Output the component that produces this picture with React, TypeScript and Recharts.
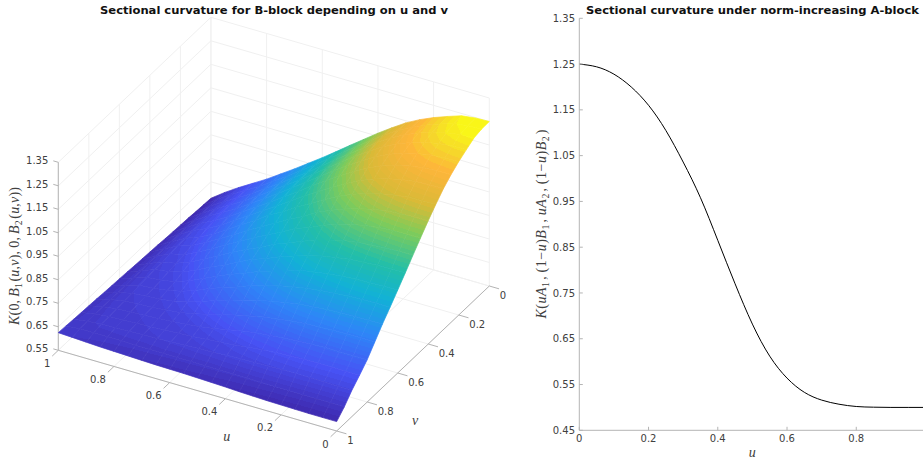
import React from 'react';
import { ScatterChart, Scatter, XAxis, YAxis, ReferenceLine, ReferenceDot, LineChart, Line } from 'recharts';

// surface samples, rows follow uGrid and columns follow vGrid
const uGrid = [0, 0.05, 0.1, 0.15, 0.2, 0.25, 0.3, 0.35, 0.4, 0.45, 0.5, 0.55, 0.6, 0.65, 0.7, 0.75, 0.8, 0.85, 0.9, 0.95, 1];
const vGrid = [0, 0.05, 0.1, 0.15, 0.2, 0.25, 0.3, 0.35, 0.4, 0.45, 0.5, 0.55, 0.6, 0.65, 0.7, 0.75, 0.8, 0.85, 0.9, 0.95, 1];
const curvature = [
  [1.25, 1.249, 1.242, 1.223, 1.203, 1.179, 1.15, 1.114, 1.075, 1.033, 0.99, 0.946, 0.903, 0.861, 0.82, 0.775, 0.73, 0.695, 0.662, 0.622, 0.59],
  [1.248, 1.246, 1.239, 1.221, 1.201, 1.177, 1.149, 1.112, 1.074, 1.032, 0.989, 0.945, 0.902, 0.86, 0.819, 0.775, 0.73, 0.695, 0.662, 0.622, 0.59],
  [1.24, 1.238, 1.23, 1.215, 1.197, 1.173, 1.145, 1.11, 1.07, 1.029, 0.986, 0.943, 0.9, 0.859, 0.818, 0.774, 0.73, 0.695, 0.662, 0.622, 0.59],
  [1.22, 1.219, 1.214, 1.203, 1.186, 1.164, 1.137, 1.102, 1.065, 1.025, 0.982, 0.939, 0.898, 0.857, 0.817, 0.773, 0.73, 0.695, 0.663, 0.622, 0.591],
  [1.198, 1.197, 1.194, 1.185, 1.171, 1.149, 1.123, 1.09, 1.055, 1.016, 0.976, 0.934, 0.893, 0.852, 0.813, 0.77, 0.727, 0.694, 0.664, 0.623, 0.592],
  [1.172, 1.171, 1.169, 1.161, 1.148, 1.13, 1.105, 1.074, 1.04, 1.005, 0.966, 0.925, 0.886, 0.846, 0.808, 0.767, 0.724, 0.691, 0.663, 0.623, 0.593],
  [1.141, 1.141, 1.139, 1.132, 1.12, 1.103, 1.081, 1.053, 1.021, 0.987, 0.951, 0.914, 0.877, 0.839, 0.802, 0.761, 0.719, 0.688, 0.662, 0.624, 0.595],
  [1.103, 1.103, 1.102, 1.096, 1.085, 1.071, 1.051, 1.028, 0.999, 0.966, 0.934, 0.898, 0.867, 0.828, 0.792, 0.752, 0.713, 0.683, 0.66, 0.624, 0.597],
  [1.063, 1.063, 1.061, 1.057, 1.049, 1.036, 1.018, 0.997, 0.973, 0.939, 0.912, 0.88, 0.847, 0.815, 0.78, 0.743, 0.707, 0.677, 0.658, 0.624, 0.6],
  [1.02, 1.02, 1.019, 1.016, 1.009, 0.999, 0.983, 0.963, 0.938, 0.918, 0.887, 0.859, 0.829, 0.799, 0.767, 0.731, 0.698, 0.669, 0.656, 0.625, 0.602],
  [0.977, 0.977, 0.976, 0.973, 0.968, 0.959, 0.946, 0.93, 0.909, 0.886, 0.865, 0.835, 0.81, 0.782, 0.75, 0.718, 0.686, 0.663, 0.652, 0.625, 0.604],
  [0.933, 0.933, 0.932, 0.93, 0.926, 0.918, 0.908, 0.893, 0.876, 0.857, 0.834, 0.814, 0.786, 0.758, 0.733, 0.702, 0.674, 0.659, 0.65, 0.626, 0.606],
  [0.89, 0.89, 0.889, 0.888, 0.884, 0.878, 0.87, 0.862, 0.843, 0.826, 0.808, 0.785, 0.764, 0.739, 0.714, 0.686, 0.664, 0.654, 0.647, 0.626, 0.607],
  [0.849, 0.849, 0.849, 0.848, 0.844, 0.839, 0.832, 0.822, 0.81, 0.795, 0.779, 0.756, 0.738, 0.717, 0.693, 0.671, 0.658, 0.65, 0.645, 0.627, 0.608],
  [0.808, 0.808, 0.808, 0.808, 0.804, 0.8, 0.795, 0.786, 0.775, 0.763, 0.747, 0.73, 0.712, 0.692, 0.676, 0.66, 0.652, 0.647, 0.642, 0.627, 0.61],
  [0.769, 0.769, 0.769, 0.768, 0.766, 0.763, 0.757, 0.749, 0.74, 0.729, 0.716, 0.7, 0.685, 0.671, 0.66, 0.653, 0.648, 0.644, 0.64, 0.627, 0.612],
  [0.73, 0.73, 0.73, 0.73, 0.727, 0.724, 0.719, 0.713, 0.707, 0.698, 0.686, 0.674, 0.664, 0.658, 0.652, 0.648, 0.644, 0.641, 0.638, 0.628, 0.614],
  [0.695, 0.695, 0.695, 0.695, 0.694, 0.691, 0.688, 0.683, 0.677, 0.669, 0.663, 0.659, 0.654, 0.65, 0.647, 0.644, 0.641, 0.638, 0.636, 0.628, 0.616],
  [0.66, 0.661, 0.661, 0.662, 0.662, 0.662, 0.662, 0.66, 0.658, 0.656, 0.652, 0.65, 0.647, 0.645, 0.642, 0.64, 0.638, 0.636, 0.635, 0.628, 0.619],
  [0.622, 0.624, 0.625, 0.626, 0.627, 0.628, 0.628, 0.628, 0.628, 0.628, 0.628, 0.628, 0.628, 0.628, 0.628, 0.629, 0.629, 0.629, 0.629, 0.628, 0.622],
  [0.58, 0.582, 0.584, 0.587, 0.589, 0.591, 0.593, 0.596, 0.598, 0.6, 0.602, 0.605, 0.607, 0.609, 0.611, 0.614, 0.616, 0.618, 0.62, 0.623, 0.625],
];

// curve of the right panel
const pathU = [0, 0.05, 0.1, 0.15, 0.2, 0.25, 0.3, 0.35, 0.4, 0.45, 0.5, 0.55, 0.6, 0.65, 0.7, 0.75, 0.8, 0.85, 0.9, 0.95, 1];
const pathK = [1.25, 1.244, 1.228, 1.2, 1.16, 1.105, 1.036, 0.958, 0.865, 0.77, 0.682, 0.612, 0.564, 0.533, 0.516, 0.507, 0.502, 0.5005, 0.5, 0.5, 0.5];

const planeTicks = [0, 0.2, 0.4, 0.6, 0.8, 1];
const heightTicks = [0.55, 0.65, 0.75, 0.85, 0.95, 1.05, 1.15, 1.25, 1.35];
const rightHeightTicks = [0.45, 0.55, 0.65, 0.75, 0.85, 0.95, 1.05, 1.15, 1.25, 1.35];

const TEXT = '#404040';
const AXIS = '#b4b4b4';
const GRID = '#f0f0f0';
const SANS = '"DejaVu Sans", sans-serif';
const SERIF = '"Liberation Serif", serif';

const LEFT_W = 520;
const RIGHT_X = 500;

// orthographic view of the MATLAB axes box
const project = (u: number, v: number, z: number) => ({
  x: 489.3 - 278.4 * u - 152.6 * v,
  y: 286 - 80.7 * u + 145 * v - 235 * (z - 0.55),
});

// colour ramp tuned against the height it shows in the picture
const rampAt = [0.58, 0.69, 0.79, 0.875, 0.95, 1.04, 1.105, 1.18, 1.215, 1.25];
const rampRgb = [
  [62, 38, 168], [71, 82, 244], [45, 135, 247], [18, 177, 214], [35, 191, 168],
  [129, 204, 89], [216, 186, 55], [253, 181, 58], [246, 216, 42], [249, 251, 21],
];
const zLow = 0.58;
const zHigh = 1.25;
const BANDS = 64;
const colorOf = (z: number) => {
  const q = Math.min(zHigh, Math.max(zLow, z));
  let i = 0;
  while (i < rampAt.length - 2 && q > rampAt[i + 1]) i++;
  const f = (q - rampAt[i]) / (rampAt[i + 1] - rampAt[i]);
  const c = rampRgb[i].map((a, k) => Math.round(a + (rampRgb[i + 1][k] - a) * f));
  return `rgb(${c[0]},${c[1]},${c[2]})`;
};
const bandStep = (zHigh - zLow) / BANDS;
const bandOf = (z: number) => Math.min(BANDS - 1, Math.max(0, Math.floor((z - zLow) / bandStep)));
const bandColor = (b: number) => colorOf(zLow + (b + 0.5) * bandStep);

// painted from the back corner (u=1, v=0) to the front
const cells: any[] = [];
for (let i = uGrid.length - 2; i >= 0; i--) {
  for (let j = 0; j < vGrid.length - 1; j++) {
    const ids = [[i + 1, j], [i + 1, j + 1], [i, j + 1], [i, j]];
    const corners = ids.map(([a, b]) => project(uGrid[a], vGrid[b], curvature[a][b]));
    cells.push({
      id: `c${i}-${j}`,
      x: corners[0].x,
      y: corners[0].y,
      offsets: corners.map((p) => [p.x - corners[0].x, p.y - corners[0].y]),
      levels: ids.map(([a, b]) => curvature[a][b]),
    });
  }
}

const SurfaceCell = (props: any) => {
  const { cx, cy, payload } = props;
  const pts = payload.offsets.map((o: number[]) => [cx + o[0], cy + o[1]]);
  const z = payload.levels;
  const ax = (pts[1][0] - pts[0][0] + pts[2][0] - pts[3][0]) / 2;
  const ay = (pts[1][1] - pts[0][1] + pts[2][1] - pts[3][1]) / 2;
  const bx = (pts[3][0] - pts[0][0] + pts[2][0] - pts[1][0]) / 2;
  const by = (pts[3][1] - pts[0][1] + pts[2][1] - pts[1][1]) / 2;
  const za = (z[1] - z[0] + z[2] - z[3]) / 2;
  const zb = (z[3] - z[0] + z[2] - z[1]) / 2;
  const det = ax * by - ay * bx;
  const poly = pts.map((p: number[]) => p.join(',')).join(' ');
  const mean = (z[0] + z[1] + z[2] + z[3]) / 4;
  const gx = det ? (za * by - zb * ay) / det : 0;
  const gy = det ? (ax * zb - bx * za) / det : 0;
  const g2 = gx * gx + gy * gy;
  const lo = Math.min(...z);
  const hi = Math.max(...z);
  if (g2 < 1e-9 || bandOf(lo) === bandOf(hi)) {
    const flat = bandColor(bandOf(mean));
    return <polygon points={poly} fill={flat} stroke={flat} strokeWidth={0.7} />;
  }
  const mx = (pts[0][0] + pts[1][0] + pts[2][0] + pts[3][0]) / 4;
  const my = (pts[0][1] + pts[1][1] + pts[2][1] + pts[3][1]) / 4;
  const stops: React.ReactNode[] = [];
  for (let b = bandOf(lo); b <= bandOf(hi); b++) {
    const from = Math.max(lo, zLow + b * bandStep);
    const to = Math.min(hi, zLow + (b + 1) * bandStep);
    stops.push(<stop key={`${b}a`} offset={(from - lo) / (hi - lo)} stopColor={bandColor(b)} />);
    stops.push(<stop key={`${b}b`} offset={(to - lo) / (hi - lo)} stopColor={bandColor(b)} />);
  }
  const gid = `shade-${payload.id}`;
  return (
    <g>
      <linearGradient
        id={gid}
        gradientUnits="userSpaceOnUse"
        x1={mx + (gx * (lo - mean)) / g2}
        y1={my + (gy * (lo - mean)) / g2}
        x2={mx + (gx * (hi - mean)) / g2}
        y2={my + (gy * (hi - mean)) / g2}
      >
        {stops}
      </linearGradient>
      <polygon points={poly} fill={`url(#${gid})`} stroke={`url(#${gid})`} strokeWidth={0.7} />
    </g>
  );
};

const seg = (key: string, a: { x: number; y: number }, b: { x: number; y: number }, color: string) => (
  <ReferenceLine key={key} segment={[a, b]} stroke={color} strokeWidth={1} ifOverflow="visible" />
);

// letters italic, _n is a subscript, the rest upright
const MathText = ({ x, y, src, size, length, rotate }: any) => {
  const parts: React.ReactNode[] = [];
  for (let i = 0; i < src.length; i++) {
    const ch = src[i];
    if (ch === '_') {
      parts.push(<tspan key={i} dy={3} fontSize={size * 0.7} fontStyle="normal">{src[i + 1]}</tspan>);
      parts.push(<tspan key={`r${i}`} dy={-3}>{'\u200a'}</tspan>);
      i++;
    } else {
      parts.push(<tspan key={i} fontStyle={/[a-zA-Z]/.test(ch) ? 'italic' : 'normal'}>{ch}</tspan>);
    }
  }
  return (
    <text
      x={0}
      y={0}
      transform={`translate(${x} ${y})${rotate ? ' rotate(-90)' : ''}`}
      textAnchor="middle"
      fontFamily={SERIF}
      fontSize={size}
      fill={TEXT}
      textLength={length}
      lengthAdjust="spacing"
    >
      {parts}
    </text>
  );
};

const Title = ({ x, children, length }: any) => (
  <text x={x} y={14} textAnchor="middle" fontFamily={SANS} fontWeight="bold" fontSize={11} fill="#111" textLength={length} lengthAdjust="spacingAndGlyphs">
    {children}
  </text>
);

const tickText = (key: string, x: number, y: number, anchor: string, label: string) => (
  <ReferenceDot
    key={key}
    x={x}
    y={y}
    r={0}
    ifOverflow="visible"
    shape={(p: any) => (
      <text x={p.cx} y={p.cy + 3.6} textAnchor={anchor} fontFamily={SANS} fontSize={10} fill={TEXT}>{label}</text>
    )}
  />
);

const SurfacePanel = () => {
  const lines: React.ReactNode[] = [];
  planeTicks.forEach((t) => {
    // back walls
    lines.push(seg(`wv${t}`, project(t, 0, 0.55), project(t, 0, 1.35), GRID));
    lines.push(seg(`wu${t}`, project(1, t, 0.55), project(1, t, 1.35), GRID));
    // floor
    lines.push(seg(`fu${t}`, project(t, 0, 0.55), project(t, 1, 0.55), GRID));
    lines.push(seg(`fv${t}`, project(0, t, 0.55), project(1, t, 0.55), GRID));
  });
  heightTicks.forEach((z) => {
    lines.push(seg(`hu${z}`, project(0, 0, z), project(1, 0, z), GRID));
    lines.push(seg(`hv${z}`, project(1, 0, z), project(1, 1, z), GRID));
  });
  lines.push(seg('axu', project(0, 1, 0.55), project(1, 1, 0.55), AXIS));
  lines.push(seg('axv', project(0, 0, 0.55), project(0, 1, 0.55), AXIS));
  lines.push(seg('axz', project(1, 1, 0.55), project(1, 1, 1.35), AXIS));
  planeTicks.forEach((t) => {
    lines.push(seg(`tu${t}`, project(t, 1, 0.55), project(t, 1.04, 0.55), AXIS));
    lines.push(seg(`tv${t}`, project(0, t, 0.55), project(-0.035, t, 0.55), AXIS));
  });
  heightTicks.forEach((z) => {
    lines.push(seg(`tz${z}`, project(1, 1, z), project(1.018, 1, z), AXIS));
  });

  const labels: React.ReactNode[] = [];
  planeTicks.forEach((t) => {
    const pu = project(t, 1, 0.55);
    labels.push(tickText(`lu${t}`, pu.x - 8, pu.y + 13, 'end', String(t)));
    const pv = project(0, t, 0.55);
    labels.push(tickText(`lv${t}`, pv.x + 10.5, pv.y + 9, 'start', String(t)));
  });
  heightTicks.forEach((z) => {
    const p = project(1, 1, z);
    labels.push(tickText(`lz${z}`, p.x - 10, p.y - 1.5, 'end', z.toFixed(2)));
  });

  return (
    <ScatterChart width={LEFT_W} height={462} margin={{ top: 0, right: 0, bottom: 0, left: 0 }}>
      <XAxis dataKey="x" type="number" domain={[0, LEFT_W]} hide allowDataOverflow />
      <YAxis dataKey="y" type="number" domain={[0, 462]} reversed hide allowDataOverflow />
      {lines}
      <Scatter data={cells} shape={SurfaceCell} isAnimationActive={false} />
      {labels}
      <Title x={274} length={348}>Sectional curvature for B-block depending on u and v</Title>
      <MathText x={19} y={256} rotate size={14} length={138} src={'K(0,\u2009B_1(u,v),\u20090,\u2009B_2(u,v))'} />
      <MathText x={226.7} y={441} size={14} src="u" />
      <MathText x={415} y={425} size={14} src="v" />
    </ScatterChart>
  );
};

const pathRows = pathU.map((u, i) => ({ u, k: pathK[i] }));
const emptyTick = () => <g />;

const CurvePanel = () => (
  <LineChart width={430} height={462} data={pathRows} margin={{ top: 18.3, right: 4.5, bottom: 0, left: 9.3 }}>
    <XAxis xAxisId="b" dataKey="u" type="number" domain={[0, 1]} ticks={planeTicks} interval={0} height={31.7}
      stroke={AXIS} tickSize={-3.5} tickMargin={8.5} tickFormatter={(v) => (v === 1 ? '' : String(v))} tick={{ fill: TEXT, fontSize: 10, fontFamily: SANS }} />
    <XAxis xAxisId="t" orientation="top" dataKey="u" type="number" domain={[0, 1]} ticks={planeTicks} interval={0} height={0}
      stroke={AXIS} tickSize={-3.5} tick={emptyTick} />
    <YAxis yAxisId="l" type="number" domain={[0.45, 1.35]} ticks={rightHeightTicks} interval={0} width={70}
      stroke={AXIS} tickSize={-3.5} tickMargin={7.8} tickFormatter={(v) => Number(v).toFixed(2)} tick={{ fill: TEXT, fontSize: 10, fontFamily: SANS }} />
    <YAxis yAxisId="r" orientation="right" type="number" domain={[0.45, 1.35]} ticks={rightHeightTicks} interval={0} width={0}
      stroke={AXIS} tickSize={-3.5} tick={emptyTick} />
    <Line xAxisId="b" yAxisId="l" dataKey="k" type="natural" stroke="#000" strokeWidth={1} dot={false} isAnimationActive={false} />
    <Title x={752.5 - RIGHT_X} length={333}>Sectional curvature under norm-increasing A-block</Title>
    <MathText x={546 - RIGHT_X} y={224} rotate size={14} length={189} src={'K(uA_1,\u2009(1\u2212u)B_1,\u2009uA_2,\u2009(1\u2212u)B_2)'} />
    <MathText x={752.3 - RIGHT_X} y={457} size={14} src="u" />
  </LineChart>
);

export default function App() {
  return (
    <div style={{ position: 'absolute', left: 0, top: 0, width: 923, height: 462, overflow: 'hidden', background: '#fff' }}>
      <div style={{ position: 'absolute', left: 0, top: 0 }}>
        <SurfacePanel />
      </div>
      <div style={{ position: 'absolute', left: RIGHT_X, top: 0 }}>
        <CurvePanel />
      </div>
    </div>
  );
}
